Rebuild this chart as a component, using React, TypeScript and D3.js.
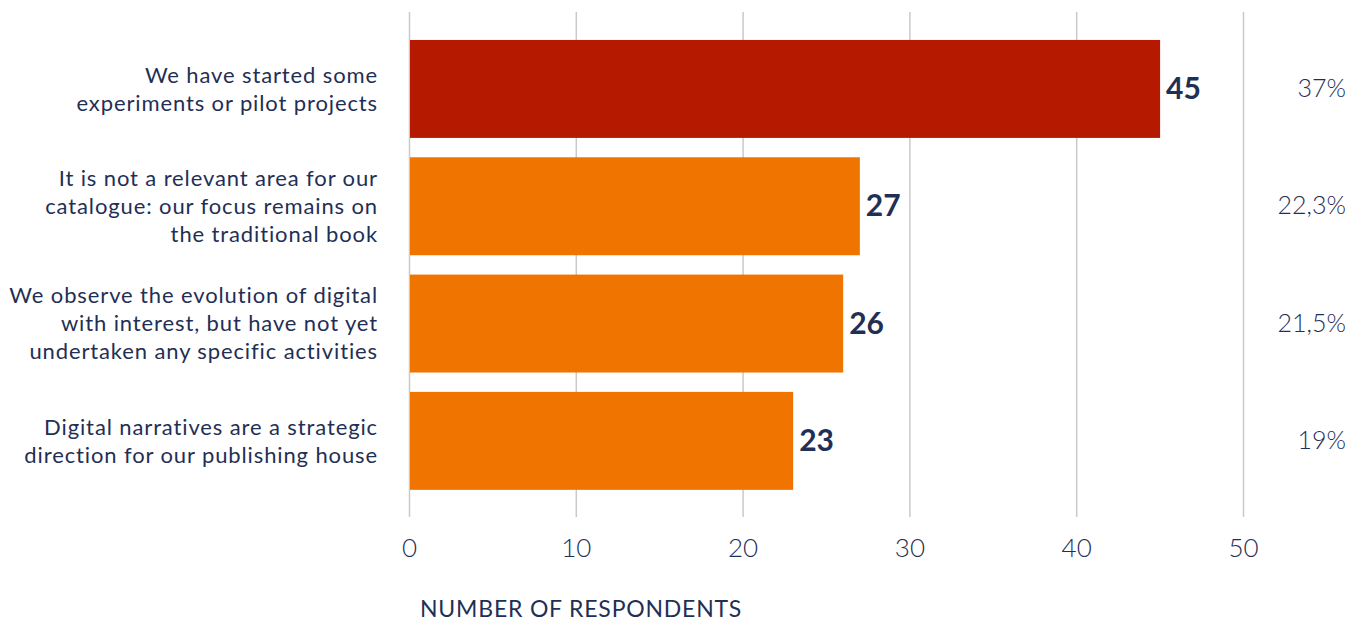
import React from "react";
import * as d3 from "d3";

const categories: string[][] = [
  ["We have started some", "experiments or pilot projects"],
  ["It is not a relevant area for our", "catalogue: our focus remains on", "the traditional book"],
  ["We observe the evolution of digital", "with interest, but have not yet", "undertaken any specific activities"],
  ["Digital narratives are a strategic", "direction for our publishing house"],
];
const values: number[] = [45, 27, 26, 23];
const percents: string[] = ["37%", "22,3%", "21,5%", "19%"];
const barColors: string[] = ["#b51a00", "#f07400", "#f07400", "#f07400"];
const ticks: number[] = [0, 10, 20, 30, 40, 50];
const axisTitle = "NUMBER OF RESPONDENTS";

const W = 1349;
const H = 622;
const TEXT = "#1f2f55";
const FONT = "Lato, 'Open Sans', sans-serif";

export default function App() {
  const x = d3.scaleLinear().domain([0, 50]).range([409.5, 1243.5]);
  const idx = categories.map((_, i) => String(i));
  const y = d3.scaleBand().domain(idx).range([20.6, 509.2]).paddingInner(0.165).paddingOuter(0.165);
  const bw = y.bandwidth();
  const lineH = 28;
  return (
    <svg width={W} height={H} style={{ position: "absolute", left: 0, top: 0, background: "#fff" }} fontFamily={FONT}>
      {ticks.map((t) => (
        <line key={"g" + t} x1={x(t)} x2={x(t)} y1={12} y2={517} stroke="#c9c9c9" strokeWidth={1.5} />
      ))}
      {values.map((v, i) => {
        const y0 = y(String(i))!;
        const cy = y0 + bw / 2;
        const lines = categories[i];
        return (
          <g key={"b" + i}>
            <rect x={x(0) + 0.5} y={y0} width={x(v) - x(0) - 0.5} height={bw} fill={barColors[i]} />
            <text x={x(v) + 6} y={cy} dy="0.34em" fontSize={30} fontWeight={700} fill={TEXT}>{v}</text>
            <text x={1346} y={cy} dy="0.32em" fontSize={25} fontWeight={300} fill={TEXT} textAnchor="end">{percents[i]}</text>
            {lines.map((l, j) => (
              <text key={j} x={378} y={cy + (j - (lines.length - 1) / 2) * lineH} dy="0.36em" fontSize={22} fontWeight={400} letterSpacing={0.88} fill={TEXT} textAnchor="end">{l}</text>
            ))}
          </g>
        );
      })}
      {ticks.map((t) => (
        <text key={"t" + t} x={x(t)} y={548} dy="0.34em" fontSize={26} fontWeight={300} fill={TEXT} textAnchor="middle">{t}</text>
      ))}
      <text x={420} y={617} fontSize={23} fontWeight={400} letterSpacing={0.8} fill={TEXT}>{axisTitle}</text>
    </svg>
  );
}
